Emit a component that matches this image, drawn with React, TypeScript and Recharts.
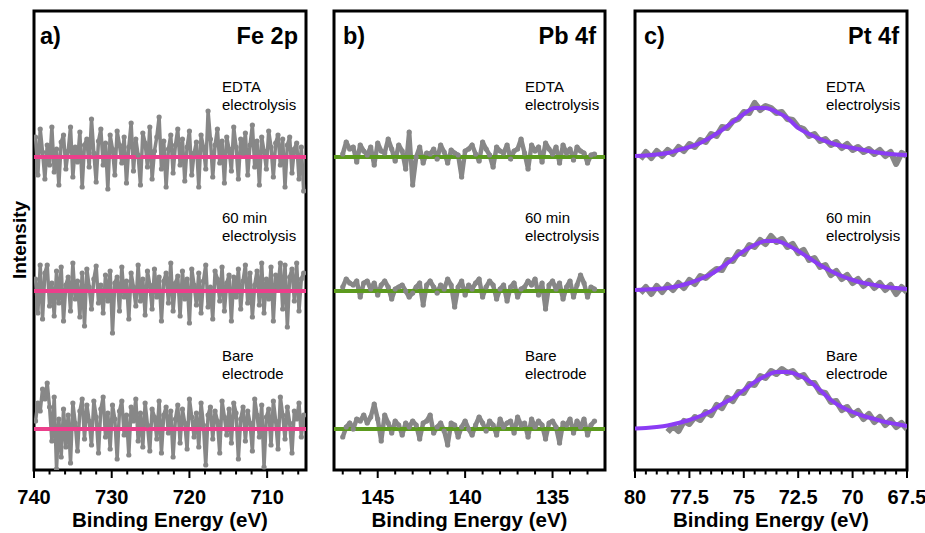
import React from 'react';
import { LineChart, Line, XAxis, YAxis, ReferenceArea } from 'recharts';

const FONT = '"Liberation Sans", Arial, Helvetica, sans-serif';
const GRAY = '#878787';

// stacking of the three spectra (a.u., bottom to top: bare, 60 min, EDTA)
const STACK = { edta: 313, min60: 179, bare: 41 };
const Y_MAX = 459;

// ---- Fe 2p ----
const FE_DOMAIN = [705, 740];
const FE_MAJOR = [740, 730, 720, 710];
const FE_MINOR = [738, 736, 734, 732, 728, 726, 724, 722, 718, 716, 714, 712, 708, 706];
const FE_START = 739.8;
const FE_STEP = 0.3;
const FE_EDTA = [
  20, -18, 28, 5, -22, 12, -8, 30, -15, 8,
  -28, 15, 22, -12, 6, 30, -20, 10, -5, 25,
  -30, 12, 18, -10, 38, 4, -25, 16, 28, -8,
  14, -32, 22, 8, -18, 26, 12, -6, 20, -26,
  10, 34, -14, 18, 2, -28, 24, 14, -10, 30,
  -22, 6, 20, 40, -12, 16, -30, 8, 22, -16,
  12, 28, -8, 18, -24, 10, 26, -18, 4, 15,
  -30, 22, 10, -12, 46, 18, -20, 12, 28, -6,
  16, -26, 20, 8, -14, 30, 10, -22, 18, 4,
  24, -18, 12, 32, -10, 16, -28, 20, 6, -12,
  26, 10, -20, 14, 22, -8, 18, -30, 12, 20,
  -16, 8, 14, -22, 10, -34,
];
const FE_60 = [
  12, -22, 26, -28, 18, 26, -15, 8, -25, 20,
  -12, 24, -30, 6, 14, -20, 28, -8, 10, -26,
  18, -35, 22, 4, -18, 12, 25, -12, 6, -22,
  16, -10, 20, -42, 8, 14, -20, 24, -6, 10,
  -28, 18, 4, -15, 26, -10, 12, -24, 20, 6,
  -18, 22, -6, 14, -30, 10, 18, -12, 28, -20,
  8, 15, -25, 20, -8, 12, -32, 22, 6, -14,
  18, -22, 10, 26, -16, 4, -28, 20, 12, -10,
  24, -20, 8, 16, -30, 14, -6, 22, -18, 10,
  26, -12, 18, -26, 6, 20, -14, 28, -22, 12,
  -8, 24, -30, 16, 4, 28, -18, 26, -36, 14,
  22, -10, 28, -20, 12, 18,
];
const FE_BARE = [
  8, 26, 18, 40, 30, 46, 22, -12, 32, -40,
  10, -28, 20, -18, 14, -34, 26, 6, -22, 18,
  30, -10, 24, 8, -16, 28, 12, -24, 20, 32,
  -8, 16, -20, 24, 10, -30, 18, 28, -6, 14,
  -26, 22, 8, 30, -12, 16, -18, 26, 4, -22,
  20, 12, -10, 28, -24, 14, 22, -4, 18, -28,
  10, 24, -14, 20, 6, -20, 30, 12, -8, 16,
  -18, 26, 4, -36, 14, 22, -10, 18, 8, -24,
  28, 12, -6, 20, -14, 26, 16, -30, 10, 22,
  -12, 18, 6, -22, 30, 14, -8, 24, -38, 12,
  20, -16, 28, 8, -20, 32, 14, -10, 22, 6,
  -24, 18, 10, 26, -8, 14,
];
const FE_FIT_E = [740, 705];
const FE_FIT = [0, 0];

// ---- Pb 4f ----
const PB_DOMAIN = [132, 147.5];
const PB_MAJOR = [145, 140, 135];
const PB_MINOR = [147, 146, 144, 143, 142, 141, 139, 138, 137, 136, 134, 133];
const PB_START = 147.0;
const PB_STEP = 0.2;
const PB_EDTA = [3, 15, 8, 10, -5, 12, 6, 2, 10, -8, 14, 6, 4, 18, 8, -4, 12, 6, -12, 25, -28, 0, 10, -6, 4, 3, 8, -2, 12, 5, -6, 7, 4, 2, -20, 6, 8, 12, 3, -4, 15, 8, 2, -10, 10, 6, 4, 12, -2, 6, 8, 18, 4, -12, 12, 6, 10, -5, 14, 8, 3, 10, -6, 12, 4, 8, -3, 10, 6, 4, -6, 2, 3];
const PB_60 = [4, 12, 8, 6, 10, -6, 8, 10, 2, 8, -4, 6, 10, 4, -8, 2, 4, 6, 0, -6, -2, 4, 8, -14, 6, 10, 4, -2, 6, 2, 12, 6, -16, 4, 10, -4, 6, 2, 8, 12, -6, 4, 10, 6, -8, 2, 6, -10, 4, 8, -6, 2, 4, 10, 6, 12, -4, 8, -18, 6, 10, 2, 8, -8, 4, 10, -6, 6, 16, 8, -6, 4, 2];
const PB_BARE = [-8, 2, 6, 0, 10, 8, 14, 6, 12, 25, 10, -12, 14, 6, -4, 8, 4, -6, 6, 2, 8, 4, -10, 6, 8, 14, -4, 2, 6, -2, -16, 6, 4, -8, 2, 8, 0, -6, 4, 12, 6, -2, 8, 4, -6, 10, 2, 6, 8, -4, 12, 4, 6, -8, 10, 2, 8, 4, -10, 6, 8, 2, -14, 6, 4, 10, -4, 8, 2, 10, -6, 4, 8];
const PB_FIT_E = [147.5, 132];
const PB_FIT = [0, 0];

// ---- Pt 4f ----
const PT_DOMAIN = [67.5, 80];
const PT_MAJOR = [80, 77.5, 75, 72.5, 70, 67.5];
const PT_MINOR = [79.5, 79, 78.5, 78, 77, 76.5, 76, 75.5, 74.5, 74, 73.5, 73, 72, 71.5, 71, 70.5, 69.5, 69, 68.5, 68];
const PT_STEP = 0.25;
const PT_EDTA_START = 79.75;
const PT_EDTA = [-2, 5, -1, 6, 1, 7, 3, 10, 6, 13, 10, 17, 15, 23, 21, 30, 29, 36, 38, 45, 44, 54, 47, 51, 49, 44, 45, 38, 37, 30, 28, 21, 23, 16, 18, 12, 15, 9, 13, 7, 10, 5, 8, 3, 7, 1, 5, -7, 4, 1];
const PT_60_START = 79.75;
const PT_60 = [-2, 4, -3, 5, -1, 6, 1, 8, 3, 11, 7, 15, 13, 18, 22, 21, 31, 30, 39, 37, 46, 44, 51, 47, 55, 49, 52, 44, 47, 38, 41, 31, 33, 24, 26, 16, 20, 12, 16, 8, 12, 5, 10, 3, 8, 1, 6, -3, 4, -1];
const PT_BARE_START = 78.5;
const PT_BARE = [-3, 3, -2, 8, 5, 12, 9, 17, 14, 24, 21, 31, 28, 37, 36, 45, 44, 53, 51, 58, 55, 60, 56, 58, 52, 54, 46, 46, 37, 36, 27, 28, 19, 22, 14, 18, 10, 15, 7, 12, 4, 9, 2, 6, 0];
const PT_FIT_START = 80;
const PT_FIT_STEP = 0.5;
const PT_FIT_EDTA = [1, 1.5, 2.5, 4, 7, 10, 14, 20, 27, 35, 43, 49, 49, 45, 39, 29, 23, 18, 14, 11, 9, 7, 5, 3.5, 2.5, 2];
const PT_FIT_60 = [1, 1.5, 2, 3, 5, 8, 12, 17, 24, 32, 40, 46, 50, 50, 46, 40, 33, 26, 20, 15, 11, 8, 6, 4, 3, 2];
const PT_FIT_BARE = [0.5, 1, 2, 3.5, 6, 9, 13, 18, 25, 31, 39, 47, 53, 57, 57, 54, 48, 39, 29, 22, 17, 13, 10, 7, 5, 3];

const grid = (start: number, step: number, values: number[], offset: number) =>
  values.map((v, i) => ({ x: +(start - i * step).toFixed(2), y: v + offset }));
const pairs = (xs: number[], values: number[], offset: number) =>
  xs.map((x, i) => ({ x, y: values[i] + offset }));

const EnergyTick = (props: any) => {
  const { x, y, payload, majors } = props;
  const isMajor = majors.includes(payload.value);
  return (
    <g>
      <line x1={x} x2={x} y1={y} y2={y + (isMajor ? 8 : 4.5)} stroke="#000" strokeWidth={2} />
      {isMajor && (
        <text x={x} y={y + 34} textAnchor="middle" fontSize={20} fontWeight="bold" fill="#000" fontFamily={FONT}>
          {payload.value}
        </text>
      )}
    </g>
  );
};

type Series = { key: string; data: { x: number; y: number }[] };

function Panel({ left, width, mLeft, mRight, domain, majors, minors, traces, fits, fitColor, smoothFit, dotR, traceWidth }: any) {
  const ticks = [...majors, ...minors].sort((a: number, b: number) => a - b);
  return (
    <div style={{ position: 'absolute', left, top: 0 }}>
      <LineChart width={width} height={533} margin={{ top: 11, right: mRight, bottom: 3, left: mLeft }}>
        <XAxis
          type="number"
          dataKey="x"
          domain={domain}
          reversed
          allowDataOverflow
          ticks={ticks}
          interval={0}
          axisLine={false}
          tickLine={false}
          tickSize={0}
          tickMargin={0}
          height={60}
          tick={(p: any) => <EnergyTick {...p} majors={majors} />}
          label={{
            value: 'Binding Energy (eV)',
            position: 'insideBottom',
            offset: 3,
            fill: '#000',
            fontSize: 20.5,
            fontWeight: 'bold',
            fontFamily: FONT,
          }}
        />
        <YAxis type="number" hide domain={[0, Y_MAX]} allowDataOverflow />
        {traces.map((s: Series) => (
          <Line
            key={s.key}
            data={s.data}
            dataKey="y"
            type="linear"
            stroke={GRAY}
            strokeWidth={traceWidth}
            strokeLinejoin="round"
            dot={dotR ? { r: dotR, fill: GRAY, stroke: 'none', strokeWidth: 0 } : false}
            activeDot={false}
            isAnimationActive={false}
          />
        ))}
        {fits.map((s: Series) => (
          <Line
            key={s.key}
            data={s.data}
            dataKey="y"
            type={smoothFit ? 'monotone' : 'linear'}
            stroke={fitColor}
            strokeWidth={4}
            dot={false}
            activeDot={false}
            isAnimationActive={false}
          />
        ))}
        <ReferenceArea
          x1={domain[0]}
          x2={domain[1]}
          y1={0}
          y2={Y_MAX}
          fill="none"
          stroke="#000"
          strokeWidth={3}
          ifOverflow="visible"
        />
      </LineChart>
    </div>
  );
}

const Labels = ({ x }: { x: number }) => (
  <g fontFamily={FONT} fontSize={15} fill="#000">
    <text x={x} y={92}>EDTA</text>
    <text x={x} y={110}>electrolysis</text>
    <text x={x} y={223}>60 min</text>
    <text x={x} y={241}>electrolysis</text>
    <text x={x} y={361}>Bare</text>
    <text x={x} y={379}>electrode</text>
  </g>
);

export default function App() {
  const feTraces = [
    { key: 'fe-edta', data: grid(FE_START, FE_STEP, FE_EDTA, STACK.edta) },
    { key: 'fe-60', data: grid(FE_START, FE_STEP, FE_60, STACK.min60) },
    { key: 'fe-bare', data: grid(FE_START, FE_STEP, FE_BARE, STACK.bare) },
  ];
  const feFits = [
    { key: 'fe-fit-edta', data: pairs(FE_FIT_E, FE_FIT, STACK.edta) },
    { key: 'fe-fit-60', data: pairs(FE_FIT_E, FE_FIT, STACK.min60) },
    { key: 'fe-fit-bare', data: pairs(FE_FIT_E, FE_FIT, STACK.bare) },
  ];
  const pbTraces = [
    { key: 'pb-edta', data: grid(PB_START, PB_STEP, PB_EDTA, STACK.edta) },
    { key: 'pb-60', data: grid(PB_START, PB_STEP, PB_60, STACK.min60) },
    { key: 'pb-bare', data: grid(PB_START, PB_STEP, PB_BARE, STACK.bare) },
  ];
  const pbFits = [
    { key: 'pb-fit-edta', data: pairs(PB_FIT_E, PB_FIT, STACK.edta) },
    { key: 'pb-fit-60', data: pairs(PB_FIT_E, PB_FIT, STACK.min60) },
    { key: 'pb-fit-bare', data: pairs(PB_FIT_E, PB_FIT, STACK.bare) },
  ];
  const ptTraces = [
    { key: 'pt-edta', data: grid(PT_EDTA_START, PT_STEP, PT_EDTA, STACK.edta) },
    { key: 'pt-60', data: grid(PT_60_START, PT_STEP, PT_60, STACK.min60) },
    { key: 'pt-bare', data: grid(PT_BARE_START, PT_STEP, PT_BARE, STACK.bare) },
  ];
  const ptFits = [
    { key: 'pt-fit-edta', data: grid(PT_FIT_START, PT_FIT_STEP, PT_FIT_EDTA, STACK.edta) },
    { key: 'pt-fit-60', data: grid(PT_FIT_START, PT_FIT_STEP, PT_FIT_60, STACK.min60) },
    { key: 'pt-fit-bare', data: grid(PT_FIT_START, PT_FIT_STEP, PT_FIT_BARE, STACK.bare) },
  ];

  return (
    <div style={{ position: 'absolute', left: 0, top: 0, width: 925, height: 533, background: '#fff', overflow: 'hidden' }}>
      <Panel left={0} width={320} mLeft={34} mRight={14} domain={FE_DOMAIN} majors={FE_MAJOR} minors={FE_MINOR}
        traces={feTraces} fits={feFits} fitColor="#ec3f8b" dotR={2.6} traceWidth={3.5} />
      <Panel left={320} width={300} mLeft={14} mRight={15} domain={PB_DOMAIN} majors={PB_MAJOR} minors={PB_MINOR}
        traces={pbTraces} fits={pbFits} fitColor="#5c9a1e" dotR={2.6} traceWidth={4.5} />
      <Panel left={620} width={305} mLeft={15} mRight={18} domain={PT_DOMAIN} majors={PT_MAJOR} minors={PT_MINOR}
        traces={ptTraces} fits={ptFits} fitColor="#8b3cf4" smoothFit dotR={0} traceWidth={6} />
      <svg width={925} height={533} style={{ position: 'absolute', left: 0, top: 0, pointerEvents: 'none' }}>
        <g fontFamily={FONT} fontWeight="bold" fontSize={23.5} fill="#000">
          <text x={40} y={44}>a)</text>
          <text x={298} y={44} textAnchor="end">Fe 2p</text>
          <text x={343} y={44}>b)</text>
          <text x={596} y={44} textAnchor="end">Pb 4f</text>
          <text x={644} y={44}>c)</text>
          <text x={899} y={44} textAnchor="end">Pt 4f</text>
        </g>
        <text x={0} y={0} transform="translate(26 240) rotate(-90)" textAnchor="middle" fontFamily={FONT}
          fontWeight="bold" fontSize={19} fill="#000">Intensity</text>
        <Labels x={222} />
        <Labels x={525} />
        <Labels x={826} />
      </svg>
    </div>
  );
}
